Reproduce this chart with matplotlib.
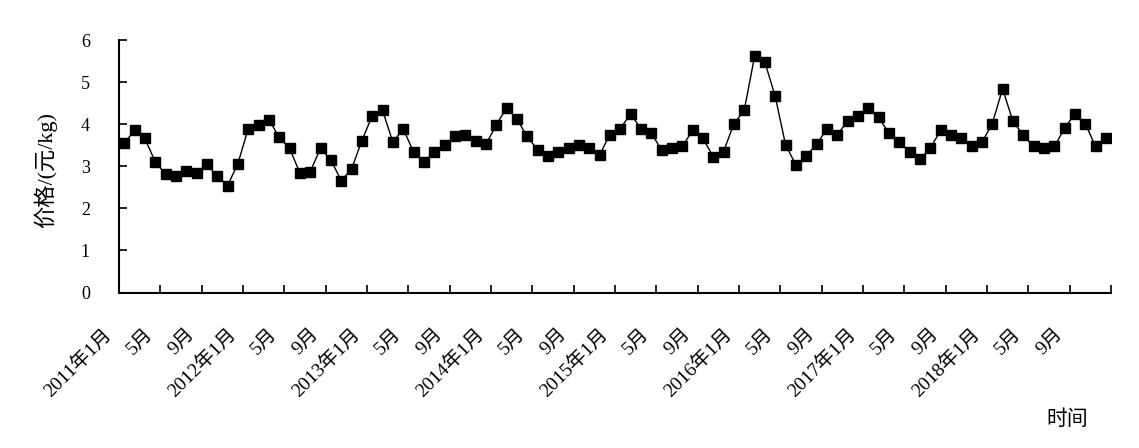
import numpy as np
import matplotlib.pyplot as plt
import matplotlib.transforms as mtransforms

plt.rcParams['font.family'] = ['Liberation Serif', 'Noto Sans CJK SC']

# 月度价格 2011年1月 - 2018年12月 (元/kg)
p2011 = [3.55, 3.85, 3.66, 3.11, 2.81, 2.76, 2.88, 2.84, 3.05, 2.76, 2.54, 3.06]
p2012 = [3.89, 3.98, 4.11, 3.69, 3.43, 2.84, 2.87, 3.43, 3.15, 2.66, 2.93, 3.61]
p2013 = [4.20, 4.33, 3.57, 3.89, 3.34, 3.11, 3.34, 3.51, 3.71, 3.74, 3.61, 3.52]
p2014 = [3.98, 4.39, 4.12, 3.71, 3.39, 3.25, 3.35, 3.44, 3.51, 3.43, 3.27, 3.75]
p2015 = [3.89, 4.25, 3.89, 3.79, 3.39, 3.43, 3.47, 3.85, 3.66, 3.23, 3.35, 4.01]
p2016 = [4.33, 5.61, 5.47, 4.66, 3.51, 3.03, 3.25, 3.52, 3.89, 3.75, 4.07, 4.20]
p2017 = [4.38, 4.16, 3.79, 3.57, 3.35, 3.17, 3.43, 3.85, 3.75, 3.66, 3.49, 3.57]
p2018 = [4.01, 4.84, 4.07, 3.74, 3.47, 3.43, 3.47, 3.90, 4.25, 4.01, 3.47, 3.66]
price = p2011 + p2012 + p2013 + p2014 + p2015 + p2016 + p2017 + p2018

years = ['2011', '2012', '2013', '2014', '2015', '2016', '2017', '2018']
month_labels = []
for y in years:
    month_labels += [y + '年1月', '5月', '9月']

x = np.arange(len(price))

fig = plt.figure(figsize=(11.39, 4.48), dpi=100)
ax = fig.add_axes([0.1045, 0.347, 0.8710, 0.5637])

ax.plot(x, price, color='black', linewidth=1.0, marker='s', markersize=7,
        markerfacecolor='black', markeredgecolor='black')

ax.set_xlim(-0.5, len(price) - 0.5)
ax.set_ylim(0, 6)
ax.set_yticks(range(0, 7))
ax.tick_params(axis='y', direction='in', length=6, width=1.2, labelsize=13, pad=21)

# 刻度线在类别之间，每4个月一个
ax.set_xticks(np.arange(-0.5, len(price), 4))
ax.set_xticklabels([])
ax.tick_params(axis='x', direction='in', length=6, width=1.2)

for s in ['top', 'right']:
    ax.spines[s].set_visible(False)
for s in ['left', 'bottom']:
    ax.spines[s].set_linewidth(1.5)

# 斜45度的月份标签
trans = mtransforms.blended_transform_factory(ax.transData, ax.transAxes) + \
    mtransforms.ScaledTranslation(-0.15, -0.39, fig.dpi_scale_trans)
for i, lab in enumerate(month_labels):
    ax.text(i * 4, 0, lab, transform=trans, rotation=45, rotation_mode='anchor',
            ha='right', va='center', fontsize=14)

fig.text(0.040, 0.62, '价格/(元/kg)', rotation=90, ha='center', va='center', fontsize=16)
fig.text(0.937, 0.062, '时间', ha='center', va='center', fontsize=15)

fig.savefig('out.png', dpi=100)
